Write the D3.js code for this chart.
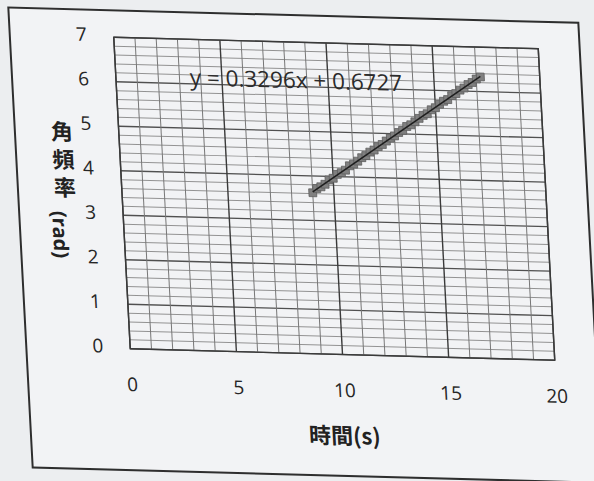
<!DOCTYPE html>
<html>
<head>
<meta charset="utf-8">
<script src="https://cdn.jsdelivr.net/npm/d3@7"></script>
<style>
    body { margin: 0; background: #eceef0; }
    svg { display: block; }
</style>
</head>
<body>
<div id="chart"></div>
<script>
// Data
const timeValues = [9.0, 9.2, 9.4, 9.6, 9.8, 10.0, 10.2, 10.4, 10.6, 10.8,
    11.0, 11.2, 11.4, 11.6, 11.8, 12.0, 12.2, 12.4, 12.6, 12.8,
    13.0, 13.2, 13.4, 13.6, 13.8, 14.0, 14.2, 14.4, 14.6, 14.8,
    15.0, 15.2, 15.4, 15.6, 15.8, 16.0, 16.2, 16.4, 16.6, 16.8,
    17.0, 17.2];
const omegaValues = [3.62, 3.72, 3.76, 3.82, 3.92, 3.96, 4.05, 4.09, 4.15, 4.25,
    4.29, 4.36, 4.44, 4.49, 4.57, 4.62, 4.70, 4.75, 4.83, 4.90,
    4.95, 5.03, 5.08, 5.17, 5.21, 5.28, 5.36, 5.43, 5.47, 5.56,
    5.61, 5.69, 5.76, 5.80, 5.89, 5.94, 6.02, 6.07, 6.15, 6.20,
    6.28, 6.33];
const xTicks = [0, 5, 10, 15, 20];
const yTicks = [0, 1, 2, 3, 4, 5, 6, 7];
const slope = 0.3296;
const intercept = 0.6727;
const equationLabel = "y = 0.3296x + 0.6727";

const points = timeValues.map((t, i) => ({ t: t, w: omegaValues[i] }));

// Plot size (before the photo skew)
const width = 424.5;
const height = 311.5;

const svg = d3.select("#chart").append("svg")
    .attr("width", 594)
    .attr("height", 481);

// the photo is slightly skewed, so the whole chart is too
const g = svg.append("g")
    .attr("transform", "matrix(1,0.027,0.053,1,113.75,37.25)");

// outer frame
g.append("rect")
    .attr("x", -104)
    .attr("y", -27)
    .attr("width", 570)
    .attr("height", 460)
    .attr("fill", "#f2f3f5")
    .attr("stroke", "#2e2e2e")
    .attr("stroke-width", 2);

const x = d3.scaleLinear().domain([0, 20]).range([0, width]);
const y = d3.scaleLinear().domain([0, 7]).range([height, 0]);

const isWhole = d => Math.abs(d - Math.round(d)) < 1e-6;

// horizontal grid (0.2 steps, darker at whole numbers)
g.append("g")
    .selectAll("line")
    .data(y.ticks(35))
    .join("line")
    .attr("x1", 0)
    .attr("x2", width)
    .attr("y1", d => y(d))
    .attr("y2", d => y(d))
    .attr("stroke", d => isWhole(d) ? "#505050" : "#929292")
    .attr("stroke-width", d => isWhole(d) ? 1.3 : 1);

// vertical grid (1 s steps, darker every 5)
g.append("g")
    .selectAll("line")
    .data(x.ticks(20))
    .join("line")
    .attr("x1", d => x(d))
    .attr("x2", d => x(d))
    .attr("y1", 0)
    .attr("y2", height)
    .attr("stroke", d => d % 5 === 0 ? "#3a3a3a" : "#777")
    .attr("stroke-width", d => d % 5 === 0 ? 1.4 : 1);

// plot border
g.append("rect")
    .attr("width", width)
    .attr("height", height)
    .attr("fill", "none")
    .attr("stroke", "#3a3a3a")
    .attr("stroke-width", 1.4);

// axes (labels only)
const xAxis = g.append("g")
    .attr("transform", `translate(0,${height})`)
    .call(d3.axisBottom(x).tickValues(xTicks).tickFormat(d3.format("d")).tickSize(0).tickPadding(29));
const yAxis = g.append("g")
    .call(d3.axisLeft(y).tickValues(yTicks).tickFormat(d3.format("d")).tickSize(0).tickPadding(27));

[xAxis, yAxis].forEach(a => {
    a.select(".domain").remove();
    a.selectAll("text")
        .attr("fill", "#262626")
        .style("font-family", "'Open Sans', sans-serif")
        .style("font-size", "19px");
});
yAxis.selectAll("text").attr("y", -2);

// markers
g.append("g")
    .selectAll("path")
    .data(points)
    .join("path")
    .attr("transform", d => `translate(${x(d.t)},${y(d.w)})`)
    .attr("d", d3.symbol().type(d3.symbolSquare).size(60))
    .attr("fill", "#808080")
    .attr("stroke", "#5e5e5e")
    .attr("stroke-width", 0.8);

// trendline
const t0 = d3.min(timeValues);
const t1 = d3.max(timeValues);
g.append("line")
    .attr("x1", x(t0))
    .attr("y1", y(slope * t0 + intercept))
    .attr("x2", x(t1))
    .attr("y2", y(slope * t1 + intercept))
    .attr("stroke", "#1e1e1e")
    .attr("stroke-width", 1.5);

// equation
g.append("text")
    .attr("x", 74)
    .attr("y", 46)
    .attr("fill", "#2b2b2b")
    .style("font-family", "'Open Sans', sans-serif")
    .style("font-size", "22.5px")
    .text(equationLabel);

// axis titles
g.append("text")
    .attr("x", width / 2 - 2)
    .attr("y", 401)
    .attr("text-anchor", "middle")
    .attr("fill", "#222")
    .style("font-family", "'Noto Sans CJK TC', sans-serif")
    .style("font-weight", "bold")
    .style("font-size", "22px")
    .text("時間(s)");

const yTitleChars = ["角", "頻", "率"];
g.append("g")
    .selectAll("text")
    .data(yTitleChars)
    .join("text")
    .attr("x", -57)
    .attr("y", (d, i) => 104 + i * 28)
    .attr("text-anchor", "middle")
    .attr("fill", "#222")
    .style("font-family", "'Noto Sans CJK TC', sans-serif")
    .style("font-weight", "bold")
    .style("font-size", "22px")
    .text(d => d);

g.append("text")
    .attr("transform", "translate(-64,199) rotate(90)")
    .attr("text-anchor", "middle")
    .attr("dy", "0.35em")
    .attr("fill", "#222")
    .style("font-family", "'Open Sans', sans-serif")
    .style("font-weight", "bold")
    .style("font-size", "20px")
    .text("(rad)");
</script>
</body>
</html>
